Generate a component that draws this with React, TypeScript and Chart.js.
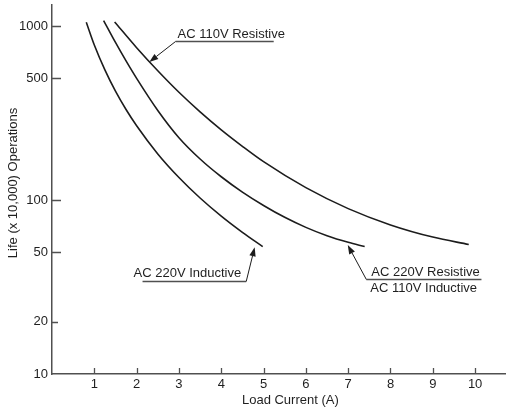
import React, { useEffect, useRef } from 'react';
import { Chart, registerables } from 'chart.js';

Chart.register(...registerables);

// ---------- data ----------
const X_TICKS = [1, 2, 3, 4, 5, 6, 7, 8, 9, 10];
const Y_TICKS = [10, 20, 50, 100, 500, 1000];
const X_MIN = 0;
const X_MAX = 10.73;
const Y_MIN = 10;
const Y_MAX = 1320;

const AC220_INDUCTIVE_X = [0.81, 1.0, 1.25, 1.5, 1.75, 2.0, 2.5, 3.0, 3.5, 4.0, 4.5, 4.98];
const AC220_INDUCTIVE_Y = [1050, 777, 559, 422, 331, 267, 184, 134.7, 102.7, 80.8, 65.2, 54];

const AC220R_AC110I_X = [1.22, 1.5, 1.75, 2.0, 2.5, 3.0, 3.5, 4.0, 4.5, 5.0, 5.5, 6.0, 6.5, 7.0, 7.39];
const AC220R_AC110I_Y = [1075, 804, 630, 500, 327, 228, 172, 136, 111, 93, 79.5, 69.6, 62.3, 57.1, 54];

const AC110_RESISTIVE_X = [1.48, 2.0, 2.5, 3.0, 3.5, 4.0, 4.5, 5.0, 6.0, 7.0, 8.0, 9.0, 9.85];
const AC110_RESISTIVE_Y = [1055, 750, 553, 416, 321, 253, 203.5, 166, 117.7, 89.2, 71.9, 61.2, 55.5];

const X_TITLE = 'Load Current (A)';
const Y_TITLE = 'Life (x 10,000) Operations';

// label annotations (anchors in data units)
const ANNOTATIONS = [
  { lines: ['AC 110V Resistive'], tip: [2.3, 621], elbow: [2.92, 820], lineEndX: 5.24, side: 'right' },
  { lines: ['AC 220V Inductive'], tip: [4.79, 53.5], elbow: [4.59, 34.4], lineEndX: 2.14, side: 'left' },
  { lines: ['AC 220V Resistive', 'AC 110V Inductive'], tip: [6.99, 55.1], elbow: [7.43, 35.2], lineEndX: 10.15, side: 'split' },
];

// ---------- styles ----------
const FONT_FAMILY = '"Liberation Sans", Arial, Helvetica, sans-serif';
const FONT_SIZE = 13;
const TEXT_COLOR = '#1f1f1f';
const AXIS_COLOR = '#505050';
const LINE_COLOR = '#1c1c1c';

const toPoints = (xs: number[], ys: number[]) => xs.map((x, i) => ({ x, y: ys[i] }));

const decorPlugin = {
  id: 'decor',
  afterDraw(chart: any) {
    const { ctx, chartArea, scales } = chart;
    const xs = scales.x;
    const ys = scales.y;
    ctx.save();
    // inner tick marks
    ctx.strokeStyle = AXIS_COLOR;
    ctx.lineWidth = 1.3;
    ctx.beginPath();
    ys.ticks.forEach((t: any) => {
      if (t.value === Y_MIN) return;
      const py = Math.round(ys.getPixelForValue(t.value)) + 0.5;
      const len = t.value === 20 ? 6 : 9;
      ctx.moveTo(chartArea.left, py);
      ctx.lineTo(chartArea.left + len, py);
    });
    xs.ticks.forEach((t: any) => {
      const px = Math.round(xs.getPixelForValue(t.value)) + 0.5;
      ctx.moveTo(px, chartArea.bottom);
      ctx.lineTo(px, chartArea.bottom - 6);
    });
    ctx.stroke();

    // axis titles
    ctx.fillStyle = TEXT_COLOR;
    ctx.font = `${FONT_SIZE}px ${FONT_FAMILY}`;
    ctx.textAlign = 'center';
    ctx.textBaseline = 'middle';
    ctx.fillText(X_TITLE, chartArea.left + (chartArea.right - chartArea.left) * 0.525, 400);
    ctx.save();
    ctx.translate(13.5, (chartArea.top + chartArea.bottom) / 2 - 6.5);
    ctx.rotate(-Math.PI / 2);
    ctx.fillText(Y_TITLE, 0, 0);
    ctx.restore();

    // annotations
    ANNOTATIONS.forEach((a) => {
      const tx = xs.getPixelForValue(a.tip[0]);
      const ty = ys.getPixelForValue(a.tip[1]);
      const ex = xs.getPixelForValue(a.elbow[0]);
      const ey = Math.round(ys.getPixelForValue(a.elbow[1])) + 0.5;
      const lx = xs.getPixelForValue(a.lineEndX);
      // underline
      ctx.strokeStyle = AXIS_COLOR;
      ctx.lineWidth = 1.3;
      ctx.beginPath();
      ctx.moveTo(ex, ey);
      ctx.lineTo(lx, ey);
      ctx.stroke();
      // leader
      const ang = Math.atan2(ty - ey, tx - ex);
      const headLen = 9;
      const headW = 3.2;
      const bx = tx - Math.cos(ang) * headLen;
      const by = ty - Math.sin(ang) * headLen;
      ctx.strokeStyle = LINE_COLOR;
      ctx.lineWidth = 1;
      ctx.beginPath();
      ctx.moveTo(ex, ey);
      ctx.lineTo(bx, by);
      ctx.stroke();
      ctx.fillStyle = LINE_COLOR;
      ctx.beginPath();
      ctx.moveTo(tx, ty);
      ctx.lineTo(bx + Math.sin(ang) * headW, by - Math.cos(ang) * headW);
      ctx.lineTo(bx - Math.sin(ang) * headW, by + Math.cos(ang) * headW);
      ctx.closePath();
      ctx.fill();
      // text
      ctx.fillStyle = TEXT_COLOR;
      ctx.textBaseline = 'alphabetic';
      if (a.side === 'right') {
        ctx.textAlign = 'left';
        ctx.fillText(a.lines[0], ex + 2, ey - 4);
      } else if (a.side === 'left') {
        ctx.textAlign = 'right';
        ctx.fillText(a.lines[0], ex - 5, ey - 4.5);
      } else {
        ctx.textAlign = 'left';
        ctx.fillText(a.lines[0], ex + 5, ey - 4);
        ctx.fillText(a.lines[1], ex + 4, ey + 12.5);
      }
    });
    ctx.restore();
  },
};

export default function App() {
  const ref = useRef<HTMLCanvasElement | null>(null);

  useEffect(() => {
    if (!ref.current) return;
    const lineDs = (pts: { x: number; y: number }[]) => ({
      data: pts,
      showLine: true,
      borderColor: LINE_COLOR,
      borderWidth: 1.6,
      pointRadius: 0,
      fill: false,
      cubicInterpolationMode: 'monotone' as const,
    });
    const chart = new Chart(ref.current, {
      type: 'scatter',
      data: {
        datasets: [
          lineDs(toPoints(AC220_INDUCTIVE_X, AC220_INDUCTIVE_Y)),
          lineDs(toPoints(AC220R_AC110I_X, AC220R_AC110I_Y)),
          lineDs(toPoints(AC110_RESISTIVE_X, AC110_RESISTIVE_Y)),
        ],
      },
      options: {
        responsive: false,
        animation: false,
        devicePixelRatio: 1,
        layout: { padding: { top: 5, left: 0, right: 0, bottom: 0 } },
        plugins: { legend: { display: false }, tooltip: { enabled: false }, title: { display: false } },
        scales: {
          x: {
            type: 'linear',
            min: X_MIN,
            max: X_MAX,
            afterBuildTicks: (s: any) => {
              s.ticks = X_TICKS.map((v) => ({ value: v }));
            },
            afterFit: (s: any) => {
              s.height = 37;
              s.paddingLeft = 0;
              s.paddingRight = 0;
            },
            grid: { display: true, drawOnChartArea: false, drawTicks: false },
            border: { display: true, color: AXIS_COLOR, width: 1.5 },
            ticks: {
              padding: 3,
              color: TEXT_COLOR,
              font: { family: FONT_FAMILY, size: FONT_SIZE },
              maxRotation: 0,
              autoSkip: false,
              callback: (v: any) => String(v),
            },
          },
          y: {
            type: 'logarithmic',
            min: Y_MIN,
            max: Y_MAX,
            afterBuildTicks: (s: any) => {
              s.ticks = Y_TICKS.map((v) => ({ value: v }));
            },
            afterFit: (s: any) => {
              s.width = 52;
              s.paddingTop = 0;
              s.paddingBottom = 0;
            },
            grid: { display: true, drawOnChartArea: false, drawTicks: false },
            border: { display: true, color: AXIS_COLOR, width: 1.5 },
            ticks: {
              padding: 4,
              color: TEXT_COLOR,
              font: { family: FONT_FAMILY, size: FONT_SIZE },
              autoSkip: false,
              callback: (v: any) => String(v),
            },
          },
        },
      } as any,
      plugins: [decorPlugin],
    });
    return () => chart.destroy();
  }, []);

  return (
    <div style={{ position: 'fixed', left: 0, top: 0, width: 506, height: 411, background: '#fff' }}>
      <canvas ref={ref} width={506} height={411} style={{ display: 'block' }} />
    </div>
  );
}
